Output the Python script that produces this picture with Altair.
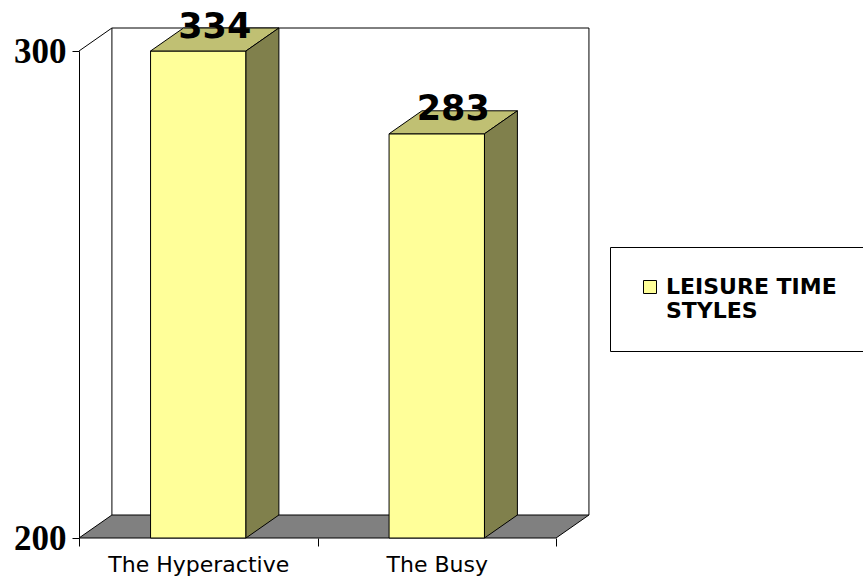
import altair as alt
import pandas as pd

# ---- chart values -------------------------------------------------------
categories = ["The Hyperactive", "The Busy"]
values = [334, 283]
series_name = "LEISURE TIME STYLES"
legend_lines = ["LEISURE TIME", "STYLES"]
y_ticks = [200, 300]

Y_MIN, Y_MAX = 200, 300

# ---- 3-D styling constants (scale units) --------------------------------
DX = 0.138          # depth offset along x (one category slot = 1 unit)
DY = 4.72           # depth offset along y (value units)
BAR_L, BAR_R = 0.30, 0.70   # box front face inside its slot
X_MAX = 3.287       # right end of the x scale (leaves room for the legend)

FRONT = "#FFFF99"
TOP = "#C0C073"
SIDE = "#80804C"
FLOOR = "#808080"

n = len(categories)

# front faces (value clipped at the axis maximum, as the value axis stops at 300)
front = pd.DataFrame({
    "bar": list(range(n)),
    "category": categories,
    "value": values,
})
front["series"] = series_name
front["shown"] = front["value"].clip(upper=Y_MAX)
front["x"] = front["bar"] + BAR_L
front["x2"] = front["bar"] + BAR_R
front["y"] = Y_MIN
front["y2"] = front["shown"]

top_rows, side_rows = [], []
for i, v in enumerate(values):
    shown = min(v, Y_MAX)
    for k in (0, 1):
        top_rows.append({"bar": i, "y": shown + k * DY,
                         "x": i + BAR_L + k * DX, "x2": i + BAR_R + k * DX})
        side_rows.append({"bar": i, "x": i + BAR_R + k * DX,
                          "y": Y_MIN + k * DY, "y2": shown + k * DY})
top = pd.DataFrame(top_rows)
side = pd.DataFrame(side_rows)

floor = pd.DataFrame([
    {"y": Y_MIN + k * DY, "x": k * DX, "x2": n + k * DX} for k in (0, 1)
])

walls = pd.DataFrame([
    {"x": 0, "y": Y_MAX, "x2": DX, "y2": Y_MAX + DY},
    {"x": DX, "y": Y_MIN + DY, "x2": DX, "y2": Y_MAX + DY},
    {"x": DX, "y": Y_MAX + DY, "x2": n + DX, "y2": Y_MAX + DY},
    {"x": n + DX, "y": Y_MIN + DY, "x2": n + DX, "y2": Y_MAX + DY},
])

labels = front[["bar", "value", "shown"]].copy()
labels["x"] = labels["bar"] + 0.5 + DX / 2
labels["y"] = labels["shown"] + DY / 2

# ---- scales and axes ----------------------------------------------------
xs = alt.Scale(domain=[0, X_MAX], nice=False, zero=False)
ys = alt.Scale(domain=[Y_MIN, Y_MAX], nice=False, zero=False)

label_expr = " : ".join(
    f"datum.value == {i + 0.5} ? '{c}'" for i, c in enumerate(categories)
) + " : ''"

x_axis = alt.Axis(
    title=None, domain=False, grid=False,
    values=[v / 2 for v in range(2 * n + 1)],
    tickOpacity=alt.condition("datum.value % 1 == 0", alt.value(1), alt.value(0)),
    tickColor="black", tickSize=8, tickWidth=1,
    labelExpr=label_expr, labelOverlap=False, labelFlush=False,
    labelFont="DejaVu Sans", labelFontSize=22, labelColor="black",
    labelPadding=8, labelLimit=400,
)
y_axis = alt.Axis(
    title=None, grid=False, values=y_ticks,
    domainColor="black", domainWidth=1,
    tickColor="black", tickSize=7, tickWidth=1,
    labelFont="Liberation Serif", labelFontWeight="bold", labelFontSize=35,
    labelColor="black", labelPadding=6,
)

X = alt.X("x:Q", scale=xs, axis=x_axis)
Y = alt.Y("y:Q", scale=ys, axis=y_axis)

wall_layer = alt.Chart(walls).mark_rule(color="black", strokeWidth=1).encode(
    x=X, y=Y, x2="x2:Q", y2="y2:Q"
)

floor_layer = alt.Chart(floor).mark_area(
    orient="horizontal", fill=FLOOR, stroke="black", strokeWidth=1
).encode(y=Y, x=X, x2="x2:Q")

front_layer = alt.Chart(front).mark_rect(stroke="black", strokeWidth=1).encode(
    x=X, x2="x2:Q", y=Y, y2="y2:Q",
    color=alt.Color(
        "series:N",
        scale=alt.Scale(domain=[series_name], range=[FRONT]),
        legend=alt.Legend(
            title=None, orient="none", legendX=531, legendY=196,
            strokeColor="black", padding=29, fillColor="white",
            symbolType="square", symbolSize=169,
            symbolStrokeColor="black", symbolStrokeWidth=1,
            labelFont="DejaVu Sans", labelFontWeight="bold", labelFontSize=22,
            labelColor="black", labelLimit=400, labelOffset=5,
            labelExpr="[" + ", ".join(f"'{s}'" for s in legend_lines) + "]",
        ),
    ),
)

top_layer = alt.Chart(top).mark_area(
    orient="horizontal", fill=TOP, stroke="black", strokeWidth=1
).encode(y=Y, x=X, x2="x2:Q", detail="bar:N")

side_layer = alt.Chart(side).mark_area(
    orient="vertical", fill=SIDE, stroke="black", strokeWidth=1
).encode(x=X, y=Y, y2="y2:Q", detail="bar:N")

text_layer = alt.Chart(labels).mark_text(
    font="DejaVu Sans", fontWeight="bold", fontSize=35, color="black",
    baseline="alphabetic", align="center", dy=-2,
).encode(x=X, y=Y, text="value:Q")

chart = alt.layer(
    wall_layer, floor_layer, front_layer, top_layer, side_layer, text_layer
).properties(
    width=784, height=487,
    padding={"left": 79, "top": 51, "right": 0, "bottom": 41},
    autosize="none", background="white",
).configure_view(stroke=None)

chart.save("out.html", embed_options={"renderer": "svg", "actions": False})
